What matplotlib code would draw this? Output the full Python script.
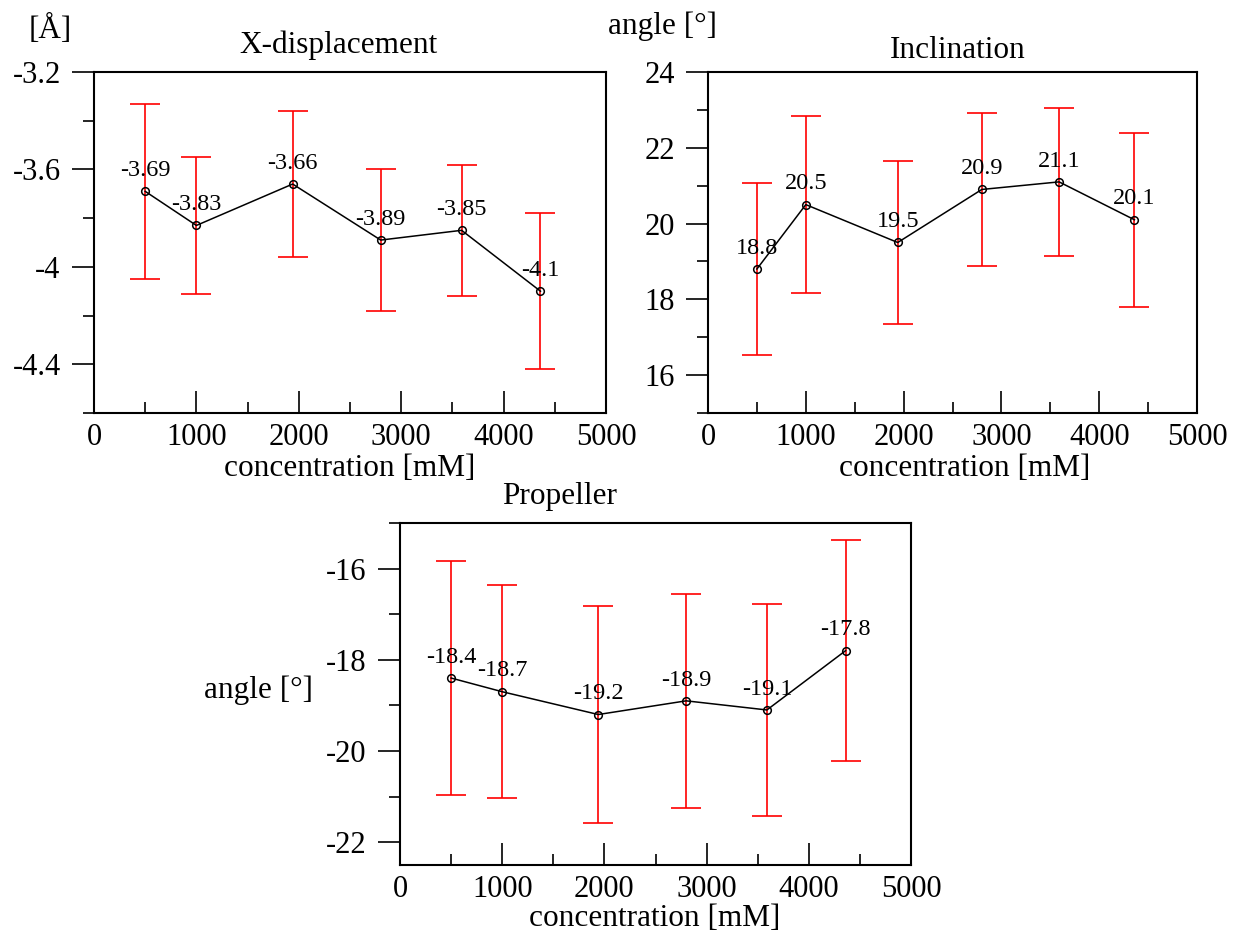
import matplotlib.pyplot as plt
from matplotlib.ticker import MultipleLocator, FuncFormatter

plt.rcParams['font.family'] = ['Liberation Serif', 'DejaVu Serif']
plt.rcParams['axes.unicode_minus'] = False

conc = [500, 1000, 1940, 2800, 3590, 4360]

xdisp = [-3.69, -3.83, -3.66, -3.89, -3.85, -4.1]
xdisp_err = [0.36, 0.28, 0.30, 0.29, 0.27, 0.32]

incl = [18.8, 20.5, 19.5, 20.9, 21.1, 20.1]
incl_err = [2.27, 2.33, 2.14, 2.01, 1.96, 2.29]

prop = [-18.4, -18.7, -19.2, -18.9, -19.1, -17.8]
prop_err = [2.56, 2.33, 2.37, 2.35, 2.33, 2.43]

W, H = 1258, 938
fig = plt.figure(figsize=(W / 100, H / 100), dpi=100)

plain = FuncFormatter(lambda v, pos: f'{round(v, 6):g}')


def box(x0, y0, x1, y1):
    # pixel box (top-left origin) -> figure fraction rect
    return [x0 / W, 1 - y1 / H, (x1 - x0) / W, (y1 - y0) / H]


def ftext(x, y, s, **kw):
    fig.text(x / W, 1 - y / H, s, ha='center', va='center', fontsize=22.5, **kw)


def panel(rect, y, err, ylim, ymaj, ymin):
    ax = fig.add_axes(rect)
    ax.errorbar(conc, y, yerr=err, fmt='none', ecolor='red', elinewidth=1.2,
                capsize=11, capthick=1.2, zorder=2)
    ax.plot(conc, y, color='black', lw=1.1, marker='o', ms=5.5,
            mfc='none', mec='black', mew=1.1, zorder=3)
    for xi, yi in zip(conc, y):
        ax.annotate(f'{yi:g}', (xi, yi), xytext=(0, 11), textcoords='offset points',
                    ha='center', va='baseline', fontsize=17.5)
    ax.set_xlim(0, 5000)
    ax.set_ylim(*ylim)
    ax.xaxis.set_major_locator(MultipleLocator(1000))
    ax.xaxis.set_minor_locator(MultipleLocator(500))
    ax.yaxis.set_major_locator(MultipleLocator(ymaj))
    ax.yaxis.set_minor_locator(MultipleLocator(ymin))
    ax.xaxis.set_major_formatter(plain)
    ax.yaxis.set_major_formatter(plain)
    ax.tick_params(axis='x', which='both', direction='in', labelsize=22, pad=7)
    ax.tick_params(axis='y', which='both', direction='out', labelsize=22, pad=8)
    ax.tick_params(which='major', length=16, width=1.2)
    ax.tick_params(which='minor', length=8, width=1.2)
    for s in ax.spines.values():
        s.set_linewidth(1.5)
    return ax


panel(box(94, 72, 606, 413), xdisp, xdisp_err, (-4.6, -3.2), 0.4, 0.2)
panel(box(708, 72, 1197, 413), incl, incl_err, (15, 24), 2, 1)
panel(box(400, 523, 911, 865), prop, prop_err, (-22.5, -15), 2, 1)

ftext(50, 30, '[Å]')
ftext(663, 26, 'angle [°]')
ftext(258, 690, 'angle [°]')

ftext(338, 45, 'X-displacement')
ftext(958, 50, 'Inclination')
ftext(560, 496, 'Propeller')

ftext(350, 468, 'concentration [mM]')
ftext(965, 468, 'concentration [mM]')
ftext(655, 918, 'concentration [mM]')

fig.savefig('out.png', dpi=100)
